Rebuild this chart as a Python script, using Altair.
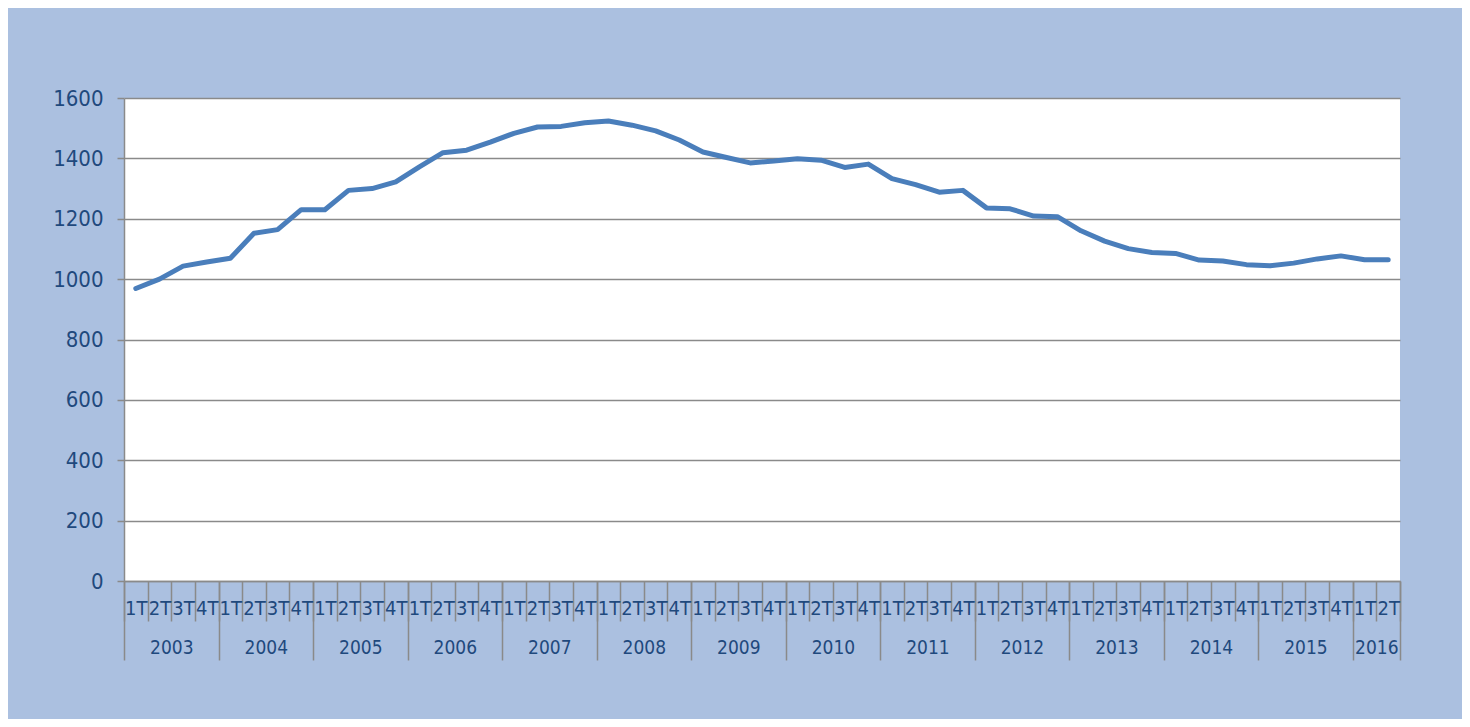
import altair as alt
import pandas as pd

years = ["2003", "2004", "2005", "2006", "2007", "2008", "2009",
         "2010", "2011", "2012", "2013", "2014", "2015", "2016"]
quarters_per_year = [4, 4, 4, 4, 4, 4, 4, 4, 4, 4, 4, 4, 4, 2]
quarter_names = ["1T", "2T", "3T", "4T"]

values = [
    969, 1000, 1043, 1057,
    1069, 1152, 1164, 1230,
    1230, 1294, 1300, 1322,
    1372, 1419, 1427, 1454,
    1483, 1504, 1506, 1518,
    1524, 1510, 1491, 1461,
    1421, 1403, 1385, 1391,
    1399, 1394, 1370, 1381,
    1333, 1313, 1288, 1294,
    1236, 1233, 1209, 1207,
    1160, 1126, 1101, 1088,
    1085, 1063, 1060, 1048,
    1044, 1053, 1067, 1077,
    1064, 1064,
]

# build category table
q_labels, y_labels = [], []
for yr, n in zip(years, quarters_per_year):
    for q in range(n):
        q_labels.append(quarter_names[q])
        y_labels.append(yr)
n_cat = len(q_labels)
df = pd.DataFrame({
    "pos": [i + 0.5 for i in range(n_cat)],
    "quarter": q_labels,
    "year": y_labels,
    "value": values,
})

# year boundaries and centres
bounds = [0]
for n in quarters_per_year:
    bounds.append(bounds[-1] + n)
centres = [(bounds[i] + bounds[i + 1]) / 2 for i in range(len(years))]

FONT = "'DejaVu Sans Condensed', 'Open Sans', sans-serif"
LABEL_COLOR = "#1F497D"
GRID = "#8A8A8A"
BG = "#ABC0E0"

q_arr = "[" + ",".join("'" + q + "'" for q in q_labels) + "]"
y_arr = "[" + ",".join("'" + y + "'" for y in years) + "]"
cent_arr = "[" + ",".join(str(c) for c in centres) + "]"

xscale = alt.Scale(domain=[0, n_cat], nice=False, zero=False)

line = alt.Chart(df).mark_line(
    color="#4A7EBB", strokeWidth=5, strokeCap="round", strokeJoin="round"
).encode(
    x=alt.X("pos:Q", scale=xscale, title=None,
            axis=alt.Axis(orient="bottom", values=list(range(n_cat + 1)),
                          labels=False, tickSize=40, tickColor=GRID,
                          tickWidth=1.5, domainColor=GRID, domainWidth=1.5,
                          grid=False)),
    y=alt.Y("value:Q", scale=alt.Scale(domain=[0, 1600], nice=False),
            title=None,
            axis=alt.Axis(values=list(range(0, 1601, 200)), format="d",
                          grid=True,
                          gridColor=GRID, gridWidth=1.5, domainColor=GRID,
                          domainWidth=1.5, tickColor=GRID, tickWidth=1.5,
                          tickSize=7, labelPadding=14, labelFont=FONT,
                          labelFontSize=22, labelColor=LABEL_COLOR)),
)

qaxis = alt.Chart(df).mark_point(opacity=0).encode(
    x=alt.X("pos:Q", scale=xscale, title=None,
            axis=alt.Axis(orient="bottom", values=list(df["pos"]),
                          labelExpr=q_arr + "[floor(datum.value)]",
                          tickSize=0, domain=False, grid=False,
                          labelPadding=27, labelBaseline="middle",
                          labelFont=FONT, labelFontSize=20,
                          labelColor=LABEL_COLOR, labelOverlap=False,
                          labelFlush=False, labelBound=False)),
)

ybounds = alt.Chart(df).mark_point(opacity=0).encode(
    x=alt.X("pos:Q", scale=xscale, title=None,
            axis=alt.Axis(orient="bottom", values=bounds, labels=False,
                          tickSize=79, tickColor=GRID, tickWidth=1.5,
                          domain=False, grid=False)),
)

yaxis = alt.Chart(df).mark_point(opacity=0).encode(
    x=alt.X("pos:Q", scale=xscale, title=None,
            axis=alt.Axis(orient="bottom", values=centres,
                          labelExpr=y_arr + "[indexof(" + cent_arr + ", datum.value)]",
                          tickSize=0, domain=False, grid=False,
                          labelPadding=66, labelBaseline="middle",
                          labelFont=FONT, labelFontSize=19,
                          labelColor=LABEL_COLOR, labelOverlap=False,
                          labelFlush=False, labelBound=False)),
)

chart = alt.layer(line, ybounds, qaxis, yaxis).resolve_scale(
    x="independent"
).properties(
    width=1276, height=483,
    autosize=alt.AutoSizeParams(type="none"),
    padding={"left": 116, "top": 90, "right": 62, "bottom": 138},
    background=BG,
).configure_view(
    fill="white", stroke=None
)

chart.save("out.html", embed_options={"renderer": "svg", "actions": False})
